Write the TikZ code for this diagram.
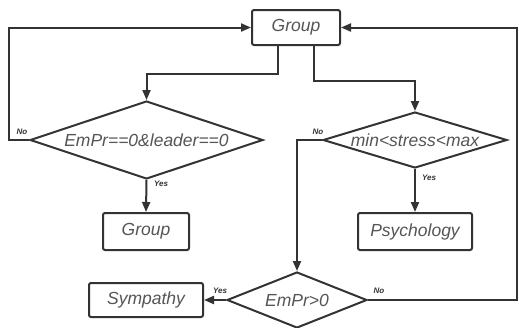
\documentclass[tikz,border=0pt]{standalone}
\usepackage{fontspec}
\setmainfont{Liberation Sans}
\usetikzlibrary{shapes.geometric,arrows.meta}
\definecolor{linegray}{HTML}{333333}
\definecolor{textgray}{HTML}{555555}
\tikzset{
	box/.style={draw=linegray,line width=2pt,rounded corners=2pt,inner sep=0pt,text=textgray,font=\fontsize{17.5}{20}\selectfont\itshape},
	cond/.style={diamond,aspect=3.5,draw=linegray,line width=2pt,inner sep=0pt,text=textgray,font=\fontsize{17.5}{20}\selectfont\itshape},
	tag/.style={inner sep=0pt,text=linegray,font=\fontsize{8}{9}\selectfont\bfseries\itshape},
	flow/.style={draw=linegray,line width=2pt,-{Triangle[length=10pt,width=8pt]}}
}
\begin{document}
\begin{tikzpicture}[x=1pt,y=-1pt]
		\useasboundingbox (0,0) rectangle (519,327);
		\node[box,minimum width=88pt,minimum height=35pt] (grp) at (296,27.5) {Group};
		\node[cond,minimum width=233pt,minimum height=78pt] (lead) at (146.5,140) {EmPr==0\&leader==0};
		\node[cond,minimum width=184pt,minimum height=56pt] (stress) at (415,140) {min<stress<max};
		\node[box,minimum width=86pt,minimum height=37pt] (grpb) at (146,231.5) {Group};
		\node[box,minimum width=114pt,minimum height=37pt] (psy) at (415,231.5) {Psychology};
		\node[cond,minimum width=140pt,minimum height=56pt] (empr) at (297,300) {EmPr>0};
		\node[box,minimum width=114pt,minimum height=34pt] (symp) at (146,300) {Sympathy};
		\node[tag] (noa) at (22,132) {No};
		\node[tag] (yesa) at (161,184) {Yes};
		\node[tag] (nob) at (318,132) {No};
		\node[tag] (yesb) at (429,178) {Yes};
		\node[tag] (yesc) at (220,291) {Yes};
		\node[tag] (noc) at (379,291) {No};
		\draw[flow] ([xshift=-18pt]grp.south) -- ++(0,28) -| (lead.north);
		\draw[flow] ([xshift=18pt]grp.south) -- ++(0,35) -| (stress.north);
		\draw[flow] (lead.west) -- ++(-20,0) |- (grp.west);
		\draw[flow] (lead.south) -- (grpb.north);
		\draw[flow] (stress.south) -- (psy.north);
		\draw[flow] (stress.west) -- ++(-26,0) -| (empr.north);
		\draw[flow] (empr.west) -- (symp.east);
		\draw[flow] (empr.east) -- ++(149,0) |- (grp.east);
	\end{tikzpicture}
\end{document}
